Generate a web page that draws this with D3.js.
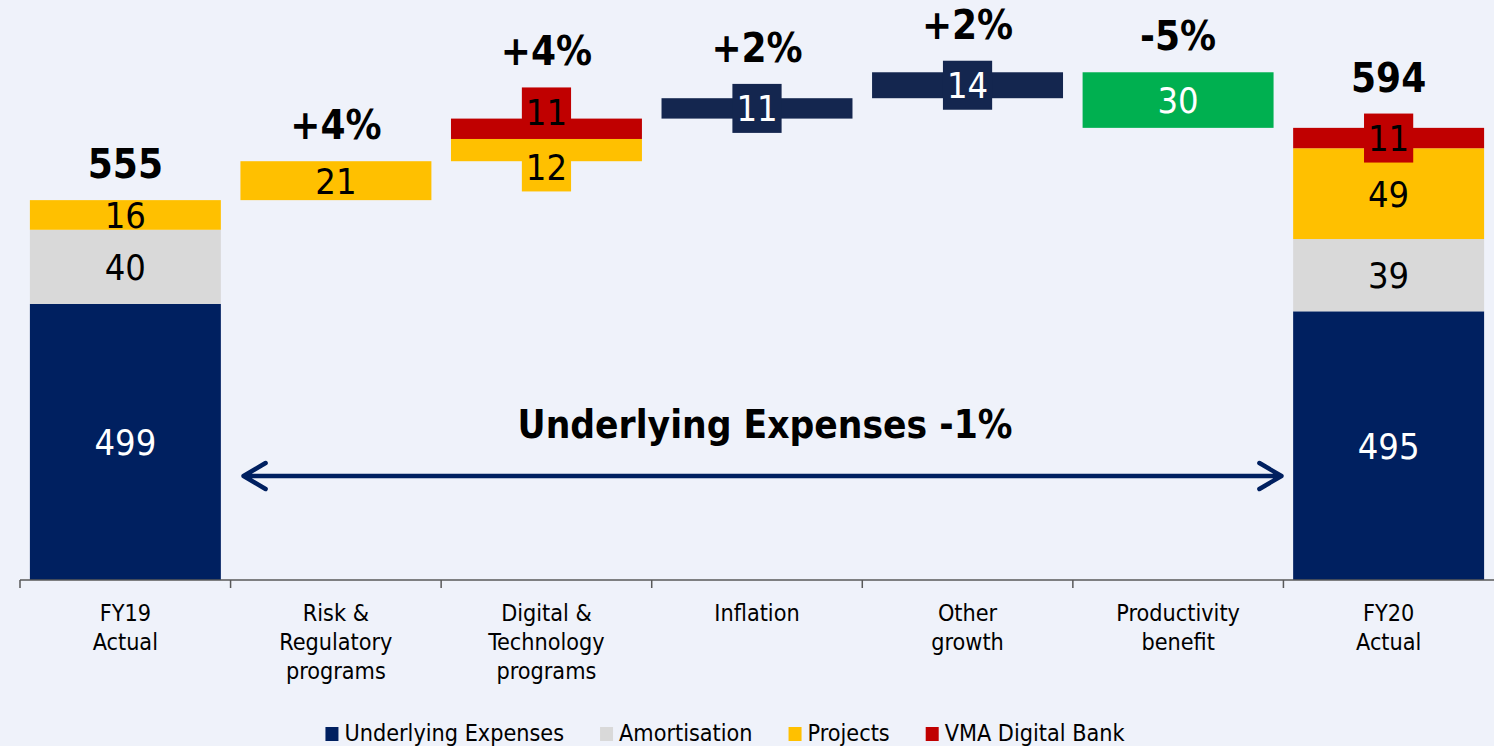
<!DOCTYPE html>
<html>
<head>
<meta charset="utf-8">
<script src="https://cdn.jsdelivr.net/npm/d3@7"></script>
<style>
  html, body { margin: 0; padding: 0; background: #EFF2FA; }
  svg { display: block; font-family: "DejaVu Sans Condensed", "DejaVu Sans", sans-serif; }
</style>
</head>
<body>
<div id="graph"></div>
<script>
// categories, one array of lines per column
const categories = [
  ["FY19", "Actual"],
  ["Risk &", "Regulatory", "programs"],
  ["Digital &", "Technology", "programs"],
  ["Inflation"],
  ["Other", "growth"],
  ["Productivity", "benefit"],
  ["FY20", "Actual"]
];
const kinds = ["total", "step", "step", "step", "step", "step", "total"];

// series values ($m)
const seriesNames = ["Underlying Expenses", "Amortisation", "Projects", "VMA Digital Bank"];
const underlying   = [499, 0, 0, 11, 14, -30, 495];
const amortisation = [40, 0, 0, 0, 0, 0, 39];
const projects     = [16, 21, 12, 0, 0, 0, 49];
const vmaDigital   = [0, 0, 11, 0, 0, 0, 11];

const topLabels = ["555", "+4%", "+4%", "+2%", "+2%", "-5%", "594"];
const bandNote = "Underlying Expenses -1%";

const colors = {
  "Underlying Expenses": "#002060",
  "Amortisation": "#D9D9D9",
  "Projects": "#FFC000",
  "VMA Digital Bank": "#C00000"
};
const stepUp = "#14264F";
const stepDown = "#00B050";

const width = 1494, height = 746;
const baseY = 580;

const svg = d3.select("#graph").append("svg")
  .attr("width", width).attr("height", height);

svg.append("rect").attr("width", width).attr("height", height).attr("fill", "#EFF2FA");

const x = d3.scaleBand()
  .domain(d3.range(categories.length))
  .range([20, 1494])
  .paddingInner(0.093)
  .paddingOuter(0.047);

const step = (1494 - 20) / categories.length;
const y = d3.scaleLinear().domain([350, 663]).range([baseY, 0]).clamp(true);

const values = [underlying, amortisation, projects, vmaDigital];

// build the stacked waterfall segments
let level = 0;
const segs = [];
categories.forEach((c, i) => {
  let base = kinds[i] === "total" ? 0 : level;
  values.forEach((arr, s) => {
    const v = arr[i];
    if (!v) return;
    let y0, y1, fill;
    if (v > 0) { y0 = base; y1 = base + v; base = y1; }
    else { y0 = base + v; y1 = base; base = y0; }
    if (kinds[i] === "total") fill = colors[seriesNames[s]];
    else if (s === 0) fill = v > 0 ? stepUp : stepDown;
    else fill = colors[seriesNames[s]];
    segs.push({ i, s, v, y0, y1, fill, text: s === 0 ? "#fff" : "#000" });
  });
  level = base;
});

const g = svg.append("g");

g.selectAll("rect.bar").data(segs).enter().append("rect")
  .attr("class", "bar")
  .attr("x", d => x(d.i))
  .attr("width", x.bandwidth())
  .attr("y", d => y(d.y1))
  .attr("height", d => y(d.y0) - y(d.y1))
  .attr("fill", d => d.fill);

// axis
const axisG = svg.append("g").attr("transform", `translate(0,${baseY})`);
axisG.append("line").attr("x1", 20).attr("x2", width).attr("stroke", "#595959").attr("stroke-width", 1.5);
axisG.selectAll("line.tick").data(d3.range(categories.length)).enter().append("line")
  .attr("class", "tick")
  .attr("x1", i => 20 + i * step).attr("x2", i => 20 + i * step)
  .attr("y1", 0).attr("y2", 8)
  .attr("stroke", "#595959").attr("stroke-width", 1.5);

// category labels
const catFont = 23.2;
categories.forEach((lines, i) => {
  const t = svg.append("text")
    .attr("text-anchor", "middle")
    .attr("font-size", catFont)
    .attr("fill", "#000");
  lines.forEach((ln, k) => {
    t.append("tspan").attr("x", 20 + (i + 0.5) * step).attr("y", 621 + k * 29).text(ln);
  });
});

// data labels
const labFont = 36;
const boxH = 49;
const labels = segs.map(d => {
  const h = y(d.y0) - y(d.y1);
  return { ...d, cy: (y(d.y0) + y(d.y1)) / 2, boxed: h < 28 };
});
// push overlapping boxed labels apart inside a column
d3.groups(labels, d => d.i).forEach(([i, arr]) => {
  const boxed = arr.filter(d => d.boxed).sort((a, b) => a.cy - b.cy);
  for (let k = 1; k < boxed.length; k++) {
    const a = boxed[k - 1], b = boxed[k];
    if (b.cy - a.cy < boxH + 6) {
      const m = (a.cy + b.cy) / 2;
      a.cy = m - (boxH + 6) / 2;
      b.cy = m + (boxH + 6) / 2;
    }
  }
});

const lg = svg.append("g");
labels.forEach(d => {
  const cx = x(d.i) + x.bandwidth() / 2;
  const t = lg.append("text")
    .attr("x", cx).attr("y", d.cy).attr("dy", "0.36em")
    .attr("text-anchor", "middle")
    .attr("font-size", labFont)
    .attr("fill", d.text)
    .text(Math.abs(d.v));
  if (d.boxed) {
    const w = t.node().getComputedTextLength() + 8;
    lg.insert("rect", () => t.node())
      .attr("x", cx - w / 2).attr("y", d.cy - boxH / 2)
      .attr("width", w).attr("height", boxH)
      .attr("fill", d.fill);
    d.boxTop = d.cy - boxH / 2;
  }
});

// top labels (totals and % changes)
topLabels.forEach((txt, i) => {
  const col = labels.filter(d => d.i === i);
  const top = d3.min(col, d => Math.min(y(d.y1), d.boxed ? d.boxTop : Infinity));
  svg.append("text")
    .attr("x", x(i) + x.bandwidth() / 2)
    .attr("y", top - 22)
    .attr("text-anchor", "middle")
    .attr("font-size", 40)
    .attr("font-weight", "bold")
    .attr("fill", "#000")
    .text(txt);
});

// double arrow + note
const ax1 = 20 + step + 13, ax2 = 20 + 6 * step - 2, ay = 476;
svg.append("path")
  .attr("d", `M${ax1},${ay}H${ax2}M${ax1 + 22},${ay - 13}L${ax1},${ay}L${ax1 + 22},${ay + 13}M${ax2 - 22},${ay - 13}L${ax2},${ay}L${ax2 - 22},${ay + 13}`)
  .attr("fill", "none")
  .attr("stroke", "#002060")
  .attr("stroke-width", 4.5)
  .attr("stroke-linecap", "round")
  .attr("stroke-linejoin", "round");
svg.append("text")
  .attr("x", 765).attr("y", 438)
  .attr("text-anchor", "middle")
  .attr("font-size", 38.5)
  .attr("font-weight", "bold")
  .attr("fill", "#000")
  .text(bandNote);

// legend
const leg = svg.append("g");
let lx = 0;
seriesNames.forEach(name => {
  const it = leg.append("g").attr("transform", `translate(${lx},0)`);
  it.append("rect").attr("x", 0).attr("y", -14).attr("width", 13).attr("height", 14).attr("fill", colors[name]);
  const t = it.append("text").attr("x", 19).attr("y", 0).attr("font-size", 23.2).attr("fill", "#000").text(name);
  lx += 19 + t.node().getComputedTextLength() + 36;
});
lx -= 36;
leg.attr("transform", `translate(${725 - lx / 2},741)`);
</script>
</body>
</html>
